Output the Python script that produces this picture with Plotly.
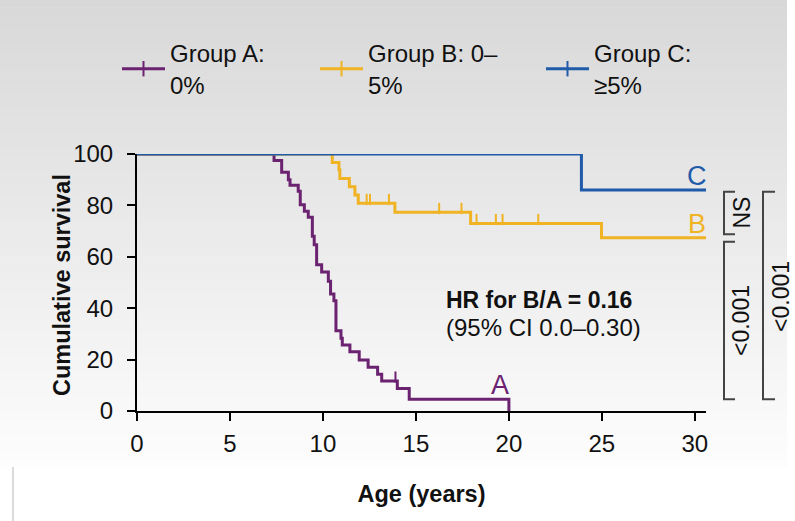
import plotly.graph_objects as go

# ---------------- data ----------------
# Group A: 0%
a_t = [0, 7.37, 7.78, 8.14, 8.23, 8.67, 8.78, 9.0, 9.21, 9.43, 9.53, 9.66, 9.93, 10.29,
       10.41, 10.59, 10.70, 10.97, 11.04, 11.45, 11.95, 12.43, 12.94, 13.16, 14.0, 14.64, 20.0]
a_s = [100, 97.5, 92.9, 90.0, 87.8, 85.5, 80.3, 77.7, 75.4, 68.0, 64.7, 56.9, 54.1, 50.5,
       45.5, 42.9, 31.2, 28.3, 25.7, 23.1, 19.8, 17.0, 14.3, 11.7, 8.8, 4.6, 0]
a_cens_t = [7.37, 13.9]
a_cens_s = [100, 11.7]

# Group B: 0-5%
b_t = [0, 10.50, 10.86, 10.91, 11.42, 11.72, 11.90, 13.87, 17.94, 24.98, 30.6]
b_s = [100, 96.7, 93.9, 90.5, 87.3, 84.0, 80.8, 77.3, 73.0, 67.4, 67.4]
b_cens_t = [8.44, 9.75, 9.96, 12.35, 12.53, 13.55, 16.25, 17.45, 18.26, 19.30, 19.66, 21.58]
b_cens_s = [100, 100, 100, 80.8, 80.8, 80.8, 77.3, 77.3, 73.0, 73.0, 73.0, 73.0]

# Group C: >=5%
c_t = [0, 23.9, 30.6]
c_s = [100, 86.0, 86.0]
c_cens_t = [10.14, 11.95, 14.64, 15.52, 15.88, 17.73]
c_cens_s = [100, 100, 100, 100, 100, 100]

names = ["Group A:<br>0%", "Group B: 0–<br>5%", "Group C:<br>≥5%"]
x_ticks = [0, 5, 10, 15, 20, 25, 30]
y_ticks = [0, 20, 40, 60, 80, 100]

COL_A = "#6B2270"
COL_B = "#F0B323"
COL_C = "#1F5BA8"
FONT = "Liberation Sans, Arial, sans-serif"
FS = 24

W, H = 795, 521
L, R, T, B = 137, 89, 154, 110
PW, PH = W - L - R, H - T - B


def px_x(p):
    return (p - L) / PW


def px_y(p):
    return (H - B - p) / PH


fig = go.Figure()

legend_ids = ["legend", "legend2", "legend3"]
TICK_OFF = 1.5  # censor ticks sit just above the curve
for t, s, ct, cs, col, nm, lg in [
    (a_t, a_s, a_cens_t, a_cens_s, COL_A, names[0], legend_ids[0]),
    (b_t, b_s, b_cens_t, b_cens_s, COL_B, names[1], legend_ids[1]),
    (c_t, c_s, c_cens_t, c_cens_s, COL_C, names[2], legend_ids[2]),
]:
    fig.add_trace(go.Scatter(x=t, y=s, mode="lines", line=dict(color=col, width=3, shape="hv"),
                             showlegend=False, cliponaxis=False, hoverinfo="skip"))
    fig.add_trace(go.Scatter(x=ct, y=[v + TICK_OFF for v in cs], mode="markers",
                             marker=dict(symbol="line-ns", size=8, line=dict(width=2, color=col)),
                             showlegend=False, cliponaxis=False, hoverinfo="skip"))
    fig.add_trace(go.Scatter(x=[None], y=[None], mode="lines+markers", name=nm, legend=lg,
                             line=dict(color=col, width=3),
                             marker=dict(symbol="line-ns", size=11, line=dict(width=2, color=col))))

# ---------------- background gradient ----------------
shapes = []
N = 60
top_px, bot_px = 0, 467
for i in range(N):
    p0 = top_px + (bot_px - top_px) * i / N
    p1 = top_px + (bot_px - top_px) * (i + 1) / N
    g = int(round(216 + (253 - 216) * (i + 0.5) / N))
    shapes.append(dict(type="rect", xref="paper", yref="paper", layer="below",
                       x0=px_x(0), x1=px_x(787), y0=px_y(p1), y1=px_y(p0) + 0.002,
                       fillcolor=f"rgb({g},{g},{g})", line=dict(width=0)))
shapes.append(dict(type="line", xref="paper", yref="paper", layer="below",
                   x0=px_x(13), x1=px_x(13), y0=px_y(521), y1=px_y(467),
                   line=dict(color="#cfcfcf", width=1.5)))

# ---------------- significance brackets ----------------
def bracket(x0p, x1p, ytop, ybot):
    x0, x1 = px_x(x0p), px_x(x1p)
    return dict(type="path", xref="paper", yref="y",
                path=f"M {x1},{ytop} L {x0},{ytop} L {x0},{ybot} L {x1},{ybot}",
                line=dict(color="#444444", width=2))

c_end, b_end, a_plat = c_s[-1], b_s[-1], a_s[-2]
shapes.append(bracket(724, 735, c_end - 0.7, b_end + 1.4))
shapes.append(bracket(724, 735, b_end - 1.5, a_plat))
shapes.append(bracket(763, 775, c_end - 0.7, a_plat))

annotations = [
    dict(x=px_x(742), y=(c_end + b_end) / 2 + 0.5, xref="paper", yref="y", text="NS",
         textangle=-90, showarrow=False, xanchor="center", yanchor="middle",
         font=dict(size=23, color="#111", family=FONT)),
    dict(x=px_x(741), y=35.4, xref="paper", yref="y", text="&lt;0.001",
         textangle=-90, showarrow=False, xanchor="center", yanchor="middle",
         font=dict(size=23, color="#111", family=FONT)),
    dict(x=px_x(781), y=44.4, xref="paper", yref="y", text="&lt;0.001",
         textangle=-90, showarrow=False, xanchor="center", yanchor="middle",
         font=dict(size=23, color="#111", family=FONT)),
    dict(x=30.1, y=c_end, xref="x", yref="y", text="C", showarrow=False, yanchor="bottom",
         yshift=-3, font=dict(size=27, color=COL_C, family=FONT)),
    dict(x=30.1, y=b_end, xref="x", yref="y", text="B", showarrow=False, yanchor="bottom",
         yshift=-3, font=dict(size=27, color=COL_B, family=FONT)),
    dict(x=19.5, y=a_plat, xref="x", yref="y", text="A", showarrow=False, yanchor="bottom",
         yshift=-3, font=dict(size=27, color=COL_A, family=FONT)),
    dict(x=16.5, y=43.2, xref="x", yref="y", text="<b>HR for B/A = 0.16</b>", showarrow=False,
         xanchor="left", font=dict(size=23, color="#111", family=FONT)),
    dict(x=16.5, y=32.3, xref="x", yref="y", text="(95% CI 0.0–0.30)", showarrow=False,
         xanchor="left", font=dict(size=24, color="#111", family=FONT)),
    # y-axis title
    dict(x=px_x(62), y=49, xref="paper", yref="y", text="<b>Cumulative survival</b>",
         textangle=-90, showarrow=False, xanchor="center", yanchor="middle",
         font=dict(size=23.5, color="#111", family=FONT)),
]

leg_common = dict(orientation="h", xanchor="left", yanchor="top", bgcolor="rgba(0,0,0,0)",
                  font=dict(size=FS, family=FONT, color="#111"), itemwidth=43)

fig.update_layout(
    width=W, height=H,
    margin=dict(l=L, r=R, t=T, b=B, pad=0, autoexpand=False),
    paper_bgcolor="white",
    plot_bgcolor="rgba(0,0,0,0)",
    font=dict(family=FONT, size=FS, color="#111"),
    shapes=shapes,
    annotations=annotations,
    legend=dict(x=px_x(117), y=px_y(31), **leg_common),
    legend2=dict(x=px_x(315), y=px_y(31), **leg_common),
    legend3=dict(x=px_x(541), y=px_y(31), **leg_common),
    xaxis=dict(range=[0, 30.6], tickvals=x_ticks, showline=True, linecolor="black", linewidth=2,
               ticks="outside", ticklen=8, tickwidth=2, tickcolor="black", showgrid=False,
               zeroline=False, tickfont=dict(size=FS), ticklabelstandoff=2,
               title=dict(text="<b>Age (years)</b>", font=dict(size=23.5), standoff=30)),
    yaxis=dict(range=[0, 100], tickvals=y_ticks, showline=True, linecolor="black", linewidth=2,
               ticks="outside", ticklen=8, tickwidth=2, tickcolor="black", showgrid=False,
               zeroline=False, tickfont=dict(size=FS), ticklabelstandoff=9),
)

fig.write_html("out.html", post_script="document.body.style.margin='0';",
               config={"displayModeBar": False})
